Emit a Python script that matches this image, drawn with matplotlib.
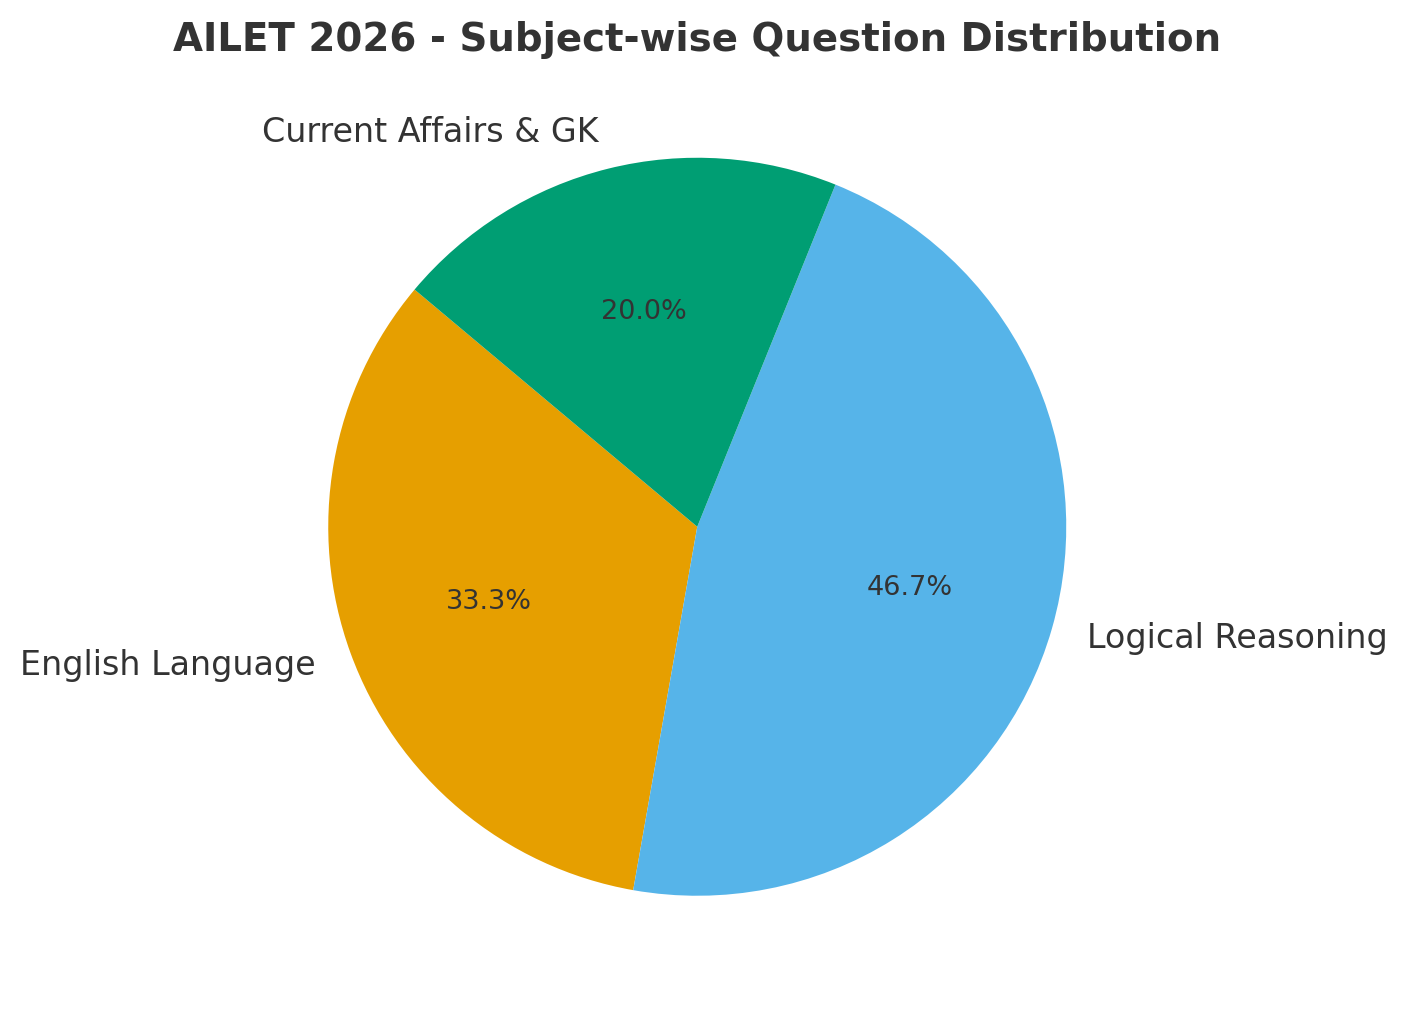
import matplotlib.pyplot as plt

# AILET 2026 question counts per section
subjects = ['English Language', 'Logical Reasoning', 'Current Affairs & GK']
questions = [50, 70, 30]
colors = ['#E69F00', '#56B4E9', '#009E73']

text_color = '#333333'

fig = plt.figure(figsize=(1409 / 150, 1010 / 150), dpi=150)
# axes placed so the pie sits where it does in the reference
ax = fig.add_axes([236 / 1409, 22 / 1010, 922.5 / 1409, 922.5 / 1010])

wedges, texts, autotexts = ax.pie(questions, labels=subjects, colors=colors,
                                  autopct='%1.1f%%', startangle=140,
                                  textprops={'color': text_color})
for t in texts:
    t.set_fontsize(16)
for t in autotexts:
    t.set_fontsize(13)

ax.set_xlim(-1.25, 1.25)
ax.set_ylim(-1.25, 1.25)
ax.set_aspect('equal')
ax.set_title('AILET 2026 - Subject-wise Question Distribution',
             fontsize=18.6, fontweight='bold', color=text_color, pad=7)

plt.savefig('out.png', dpi=150)
